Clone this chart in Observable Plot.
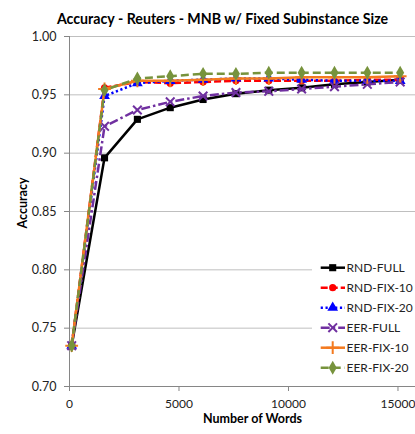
<!DOCTYPE html>
<html><head><meta charset="utf-8">
<script src="https://cdn.jsdelivr.net/npm/d3@7"></script>
<script src="https://cdn.jsdelivr.net/npm/@observablehq/plot@0.6"></script>
<style>
body{margin:0;background:#fff;}
#wrap{position:relative;width:415px;height:434px;overflow:hidden;background:#fff;}
#legend{position:absolute;left:312px;top:257px;}
</style></head><body><div id="wrap"></div>
<script>
const title = "Accuracy - Reuters - MNB w/ Fixed Subinstance Size";
const xLabel = "Number of Words";
const yLabel = "Accuracy";
const words = [100, 1600, 3100, 4600, 6100, 7600, 9100, 10600, 12100, 13600, 15100];
const seriesNames = ["RND-FULL", "RND-FIX-10", "RND-FIX-20", "EER-FULL", "EER-FIX-10", "EER-FIX-20"];
const rndFull  = [0.735, 0.896, 0.929, 0.939, 0.946, 0.951, 0.954, 0.956, 0.959, 0.961, 0.963];
const rndFix10 = [0.735, 0.956, 0.961, 0.960, 0.961, 0.962, 0.962, 0.962, 0.962, 0.963, 0.963];
const rndFix20 = [0.735, 0.949, 0.960, 0.962, 0.963, 0.964, 0.964, 0.963, 0.962, 0.962, 0.962];
const eerFull  = [0.735, 0.923, 0.937, 0.944, 0.949, 0.952, 0.953, 0.955, 0.957, 0.959, 0.961];
const eerFix10 = [0.735, 0.955, 0.962, 0.962, 0.963, 0.964, 0.964, 0.965, 0.965, 0.965, 0.966];
const eerFix20 = [0.735, 0.954, 0.964, 0.966, 0.968, 0.968, 0.969, 0.969, 0.969, 0.969, 0.969];
const xTicks = [0, 5000, 10000, 15000];
const yTicks = [0.70, 0.75, 0.80, 0.85, 0.90, 0.95, 1.00];

const values = [rndFull, rndFix10, rndFix20, eerFull, eerFix10, eerFix20];
const styles = [
  {color: "#000000", dash: null, symbol: "square", filled: true, r: 4},
  {color: "#ff0000", dash: "7,3", symbol: "circle", filled: true, r: 3.6},
  {color: "#0000ff", dash: "2.2,2.6", symbol: "triangle", filled: true, r: 4},
  {color: "#7030a0", dash: "9,3,2.5,3", symbol: "times", filled: false, r: 4},
  {color: "#f47a1f", dash: null, symbol: "plus", filled: false, r: 4.2},
  {color: "#77933c", dash: "8,4", symbol: "diamond", filled: true, r: 4.2}
];
const rows = seriesNames.flatMap((s, i) => words.map((w, j) => ({series: s, words: w, acc: values[i][j]})));

const font = "Lato, 'Open Sans', sans-serif";
const marks = [
  Plot.gridY(yTicks, {stroke: "#bfbfbf", strokeOpacity: 1, strokeWidth: 1}),
  Plot.ruleX([0], {stroke: "#868686"}),
  Plot.ruleY([0.70], {stroke: "#868686"}),
  Plot.axisY(yTicks, {tickFormat: d3.format(".2f"), tickSize: 5, tickPadding: 8, stroke: "#868686", label: null, fill: "#222", fontSize: 12.5}),
  Plot.axisX(xTicks, {tickFormat: d => String(d), tickSize: 5, tickPadding: 8, stroke: "#868686", label: null, fill: "#222", fontSize: 12})
];
seriesNames.forEach((s, i) => {
  const st = styles[i];
  const data = rows.filter(d => d.series === s);
  marks.push(Plot.line(data, {x: "words", y: "acc", stroke: st.color, strokeWidth: 2.5,
    strokeDasharray: st.dash, strokeLinecap: "butt", strokeLinejoin: "round"}));
  marks.push(Plot.dot(data, {x: "words", y: "acc", symbol: st.symbol, r: st.r,
    fill: st.filled ? st.color : "none", stroke: st.color, strokeWidth: st.filled ? 0 : 2}));
});
marks.push(Plot.text([title], {frameAnchor: "top", dy: -22.5, dx: -20, fontWeight: "bold", fontSize: 14.2, fill: "#000"}));
marks.push(Plot.text([xLabel], {frameAnchor: "bottom", dy: 36, dx: 10, fontWeight: "bold", fontSize: 12.5, fill: "#000"}));
marks.push(Plot.text([yLabel], {frameAnchor: "left", dx: -47, dy: 17, rotate: -90, fontWeight: "bold", fontSize: 12.5, fill: "#000"}));

const chart = Plot.plot({
  width: 415, height: 434,
  marginLeft: 69, marginRight: 0, marginTop: 36, marginBottom: 48,
  x: {domain: [0, 15800]},
  y: {domain: [0.70, 1.00]},
  style: {fontFamily: font, fontSize: "12px", background: "white", color: "#000", overflow: "visible"},
  marks
});
const wrap = document.getElementById("wrap");
wrap.appendChild(chart);

// legend overlay inside the plot area
const lg = d3.select(wrap).append("svg").attr("id", "legend").attr("width", 103).attr("height", 122)
  .style("font-family", font).style("font-size", "12px");
lg.append("rect").attr("width", 103).attr("height", 122).attr("fill", "white");
seriesNames.forEach((s, i) => {
  const st = styles[i];
  const g = lg.append("g").attr("transform", `translate(0,${10.7 + 20 * i})`);
  g.append("line").attr("x1", 8.7).attr("x2", 33).attr("stroke", st.color).attr("stroke-width", 2.5)
    .attr("stroke-dasharray", st.dash).attr("stroke-linecap", "butt");
  const sym = {square: d3.symbolSquare, circle: d3.symbolCircle, triangle: d3.symbolTriangle,
    times: d3.symbolTimes, plus: d3.symbolPlus, diamond: d3.symbolDiamond}[st.symbol];
  g.append("path").attr("transform", "translate(20.7,0)")
    .attr("d", d3.symbol(sym, Math.PI * st.r * st.r)())
    .attr("fill", st.filled ? st.color : "none").attr("stroke", st.filled ? "none" : st.color).attr("stroke-width", 2);
  g.append("text").attr("x", 34.5).attr("dy", "0.35em").attr("fill", "#222").text(s);
});
</script></body></html>
